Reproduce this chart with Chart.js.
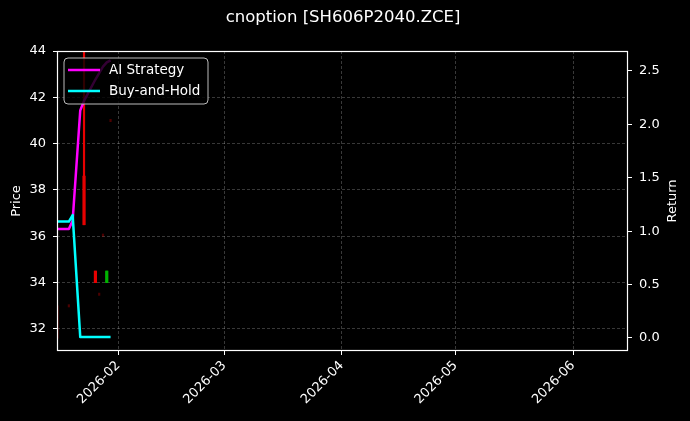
<!DOCTYPE html>
<html>
<head>
<meta charset="utf-8">
<title>cnoption [SH606P2040.ZCE]</title>
<script src="https://cdn.jsdelivr.net/npm/chart.js@4.4.1/dist/chart.umd.min.js"></script>
<style>
  html, body { margin: 0; padding: 0; background: #000; }
  #wrap { width: 690px; height: 421px; }
</style>
</head>
<body>
<div id="wrap"><canvas id="chart" width="690" height="421"></canvas></div>
<script>
const chartTitle = 'cnoption [SH606P2040.ZCE]';

// trading days shown in the chart
const dates = ['2026-01-16', '2026-01-19', '2026-01-20', '2026-01-22', '2026-01-23',
  '2026-01-26', '2026-01-27', '2026-01-28', '2026-01-29', '2026-01-30'];

// candles (price, left axis) - null where nothing is drawn
const open  = [32.9, 33.0, null, null, 38.6, 34.5, 33.5, 36.05, 34.0, 41.0];
const high  = [33.0, 33.05, null, null, 46.0, 34.5, 33.55, 36.1, 34.5, 41.05];
const low   = [31.6, 32.95, null, null, 36.5, 34.0, 33.45, 36.0, 34.0, 40.95];
const close = [32.9, 33.0, null, null, 36.5, 34.0, 33.5, 36.05, 34.5, 41.0];

// cumulative returns (right axis)
const aiStrategy  = [1.02, 1.02, 1.10, 2.13, 2.22, 2.42, 2.48, 2.54, 2.58, 2.60];
const buyAndHold  = [1.09, 1.09, 1.15, 0.01, 0.01, 0.01, 0.01, 0.01, 0.01, 0.01];

const monthTicks = ['2026-02-01', '2026-03-01', '2026-04-01', '2026-05-01', '2026-06-01'];
const priceTicks = [32, 34, 36, 38, 40, 42, 44];
const returnTicks = [0, 0.5, 1.0, 1.5, 2.0, 2.5];

const dayNum = (s) => {
  const [y, m, d] = s.split('-').map(Number);
  return (Date.UTC(y, m - 1, d) - Date.UTC(2026, 0, 1)) / 86400000;
};

const RED = '#e80000';
const GREEN = '#00b400';
const DIM = 'rgba(255,0,0,0.3)';

const wickData = [];
const wickColors = [];
const bodyData = [];
const bodyColors = [];
dates.forEach((d, i) => {
  if (high[i] == null) return;
  const doji = open[i] === close[i];
  const col = doji ? DIM : (close[i] > open[i] ? GREEN : RED);
  wickData.push({ x: dayNum(d), y: [low[i], high[i]] });
  wickColors.push(col);
  if (!doji) {
    bodyData.push({ x: dayNum(d), y: [Math.min(open[i], close[i]), Math.max(open[i], close[i])] });
    bodyColors.push(col);
  }
});

const aiData = dates.map((d, i) => ({ x: dayNum(d), y: aiStrategy[i] }));
const bhData = dates.map((d, i) => ({ x: dayNum(d), y: buyAndHold[i] }));

Chart.defaults.font.family = 'DejaVu Sans';
Chart.defaults.font.size = 13;
Chart.defaults.color = '#ffffff';

const gridColor = 'rgba(255,255,255,0.28)';

// black background, white frame, title, right axis label and matplotlib-like legend
const decor = {
  id: 'decor',
  beforeDraw(chart) {
    const ctx = chart.ctx;
    ctx.save();
    ctx.fillStyle = '#000';
    ctx.fillRect(0, 0, chart.width, chart.height);
    ctx.restore();
  },
  afterDraw(chart) {
    const { ctx, chartArea: a } = chart;
    ctx.save();
    ctx.strokeStyle = '#fff';
    ctx.lineWidth = 1.2;
    const l = Math.round(a.left) + 0.5, t = Math.round(a.top) + 0.5;
    const r = Math.round(a.right) - 0.5, b = Math.round(a.bottom) - 0.5;
    ctx.strokeRect(l, t, r - l, b - t);

    ctx.fillStyle = '#fff';
    ctx.font = '16.5px "DejaVu Sans"';
    ctx.textAlign = 'center';
    ctx.textBaseline = 'middle';
    ctx.fillText(chartTitle, 343, 18);

    // right axis label, reading bottom to top like the left one
    ctx.save();
    ctx.translate(673, (a.top + a.bottom) / 2);
    ctx.rotate(-Math.PI / 2);
    ctx.font = '13px "DejaVu Sans"';
    ctx.fillText('Return', 0, 0);
    ctx.restore();

    // legend
    const lx = a.left + 7, ly = a.top + 7, lw = 144, lh = 46;
    ctx.beginPath();
    ctx.roundRect(lx, ly, lw, lh, 4);
    ctx.fillStyle = 'rgba(0,0,0,0.8)';
    ctx.fill();
    ctx.strokeStyle = '#bbbbbb';
    ctx.lineWidth = 1;
    ctx.stroke();
    const items = [['AI Strategy', '#ff00ff'], ['Buy-and-Hold', '#00ffff']];
    items.forEach(([txt, col], k) => {
      const yy = ly + 12 + k * 21;
      ctx.strokeStyle = col;
      ctx.lineWidth = 2.5;
      ctx.beginPath();
      ctx.moveTo(lx + 4, yy);
      ctx.lineTo(lx + 36, yy);
      ctx.stroke();
      ctx.fillStyle = '#fff';
      ctx.font = '13.5px "DejaVu Sans"';
      ctx.textAlign = 'left';
      ctx.textBaseline = 'middle';
      ctx.fillText(txt, lx + 45, yy);
    });
    ctx.restore();
  }
};

const ctx = document.getElementById('chart').getContext('2d');
new Chart(ctx, {
  type: 'bar',
  data: {
    datasets: [
      {
        type: 'line', label: 'AI Strategy', data: aiData, yAxisID: 'y2',
        borderColor: '#ff00ff', borderWidth: 2.5, pointRadius: 0, tension: 0,
        borderJoinStyle: 'round', order: 1
      },
      {
        type: 'line', label: 'Buy-and-Hold', data: bhData, yAxisID: 'y2',
        borderColor: '#00ffff', borderWidth: 2.5, pointRadius: 0, tension: 0,
        borderJoinStyle: 'round', order: 0
      },
      {
        type: 'bar', label: 'wick', data: wickData, yAxisID: 'y',
        backgroundColor: wickColors, barThickness: 1.5, grouped: false, order: 5
      },
      {
        type: 'bar', label: 'body', data: bodyData, yAxisID: 'y',
        backgroundColor: bodyColors, barThickness: 2.5, grouped: false, order: 4
      }
    ]
  },
  options: {
    responsive: false,
    animation: false,
    layout: { padding: { top: 51, left: 0, right: 0, bottom: 0 } },
    plugins: {
      legend: { display: false },
      title: { display: false },
      tooltip: { enabled: false }
    },
    scales: {
      x: {
        type: 'linear',
        offset: false,
        min: dayNum('2026-01-16') - 0.13,
        max: dayNum('2026-06-15') + 0.5,
        afterBuildTicks: (s) => { s.ticks = monthTicks.map(m => ({ value: dayNum(m) })); },
        afterFit: (s) => { s.height = 70; },
        ticks: {
          minRotation: 45, maxRotation: 45, padding: 3,
          callback: (v) => {
            const m = monthTicks.find(t => dayNum(t) === v);
            return m ? m.slice(0, 7) : '';
          }
        },
        grid: {
          color: gridColor, lineWidth: 0.8, offset: false,
          tickColor: '#fff', tickLength: 4, tickWidth: 1
        },
        border: { display: false, dash: [3, 2] }
      },
      y: {
        position: 'left',
        min: 31.05, max: 44,
        afterBuildTicks: (s) => { s.ticks = priceTicks.map(v => ({ value: v })); },
        afterFit: (s) => { s.width = 57; },
        ticks: { padding: 7, callback: (v) => String(v) },
        title: { display: true, text: 'Price', padding: { top: 9, bottom: 0 }, font: { size: 13 } },
        grid: {
          color: gridColor, lineWidth: 0.8,
          tickColor: '#fff', tickLength: 4, tickWidth: 1
        },
        border: { display: false, dash: [3, 2] }
      },
      y2: {
        position: 'right',
        min: -0.122, max: 2.687,
        afterBuildTicks: (s) => { s.ticks = returnTicks.map(v => ({ value: v })); },
        afterFit: (s) => { s.width = 62; },
        ticks: { padding: 7, callback: (v) => Number(v).toFixed(1) },
        grid: {
          drawOnChartArea: false,
          tickColor: '#fff', tickLength: 4, tickWidth: 1
        },
        border: { display: false }
      }
    }
  },
  plugins: [decor]
});
</script>
</body>
</html>
